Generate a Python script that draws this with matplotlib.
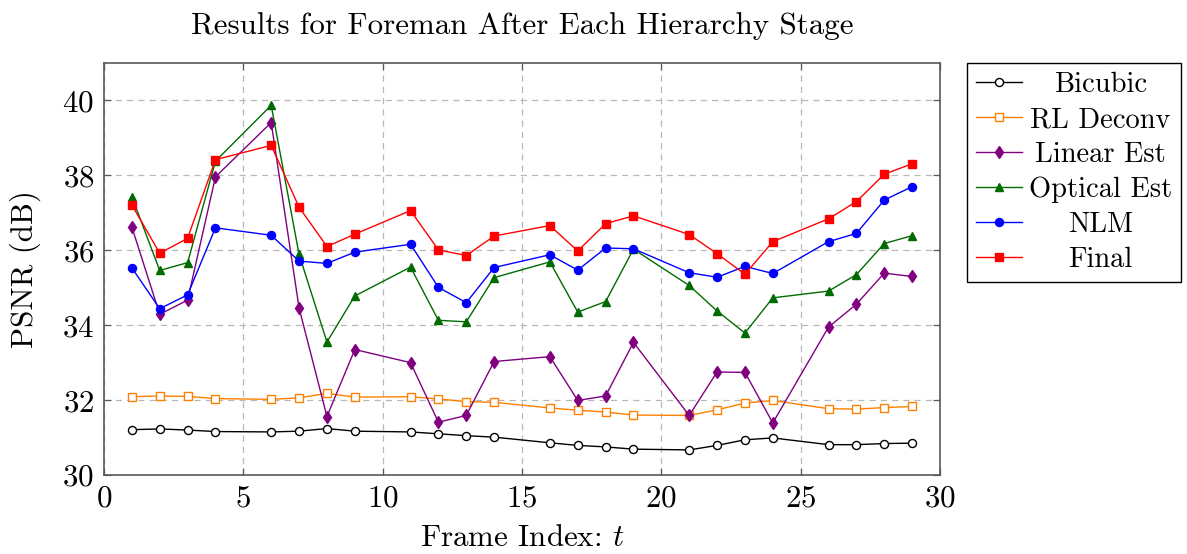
import matplotlib
matplotlib.use('Agg')
import matplotlib.pyplot as plt

plt.rcParams['font.family'] = 'serif'
plt.rcParams['font.serif'] = ['cmr10', 'DejaVu Serif']
plt.rcParams['mathtext.fontset'] = 'cm'
plt.rcParams['axes.formatter.use_mathtext'] = True

frames = [1, 2, 3, 4, 6, 7, 8, 9, 11, 12, 13, 14, 16, 17, 18, 19, 21, 22, 23, 24, 26, 27, 28, 29]

bicubic = [31.21, 31.23, 31.20, 31.16, 31.15, 31.17, 31.24, 31.17, 31.15, 31.10, 31.05, 31.01,
           30.86, 30.79, 30.75, 30.69, 30.67, 30.79, 30.94, 30.99, 30.81, 30.81, 30.84, 30.85]
rl_deconv = [32.09, 32.11, 32.10, 32.04, 32.02, 32.06, 32.18, 32.08, 32.09, 32.03, 31.96, 31.94,
             31.79, 31.73, 31.68, 31.60, 31.59, 31.74, 31.92, 31.99, 31.77, 31.76, 31.80, 31.83]
linear_est = [36.62, 34.29, 34.67, 37.96, 39.41, 34.46, 31.56, 33.35, 33.00, 31.41, 31.59, 33.03,
              33.16, 31.99, 32.11, 33.54, 31.59, 32.75, 32.74, 31.39, 33.95, 34.56, 35.39, 35.30]
optical_est = [37.43, 35.46, 35.67, 38.38, 39.87, 35.89, 33.55, 34.78, 35.55, 34.13, 34.09, 35.27,
               35.69, 34.35, 34.63, 36.03, 35.06, 34.38, 33.79, 34.73, 34.91, 35.35, 36.18, 36.39]
nlm = [35.53, 34.44, 34.81, 36.60, 36.40, 35.71, 35.65, 35.95, 36.16, 35.01, 34.60, 35.54,
       35.88, 35.47, 36.06, 36.04, 35.40, 35.28, 35.57, 35.38, 36.23, 36.45, 37.34, 37.70]
final = [37.21, 35.92, 36.32, 38.42, 38.80, 37.15, 36.10, 36.43, 37.06, 36.01, 35.86, 36.38,
         36.66, 35.98, 36.71, 36.92, 36.42, 35.91, 35.36, 36.23, 36.84, 37.30, 38.03, 38.31]

series = [
    ('Bicubic', bicubic, 'black', 'o', 'white'),
    ('RL Deconv', rl_deconv, (1.0, 0.5, 0.0), 's', 'white'),
    ('Linear Est', linear_est, (0.5, 0.0, 0.5), 'd', None),
    ('Optical Est', optical_est, (0.0, 0.42, 0.0), '^', None),
    ('NLM', nlm, 'blue', 'o', None),
    ('Final', final, 'red', 's', None),
]

FS = 22.3
LFS = 20.5

fig = plt.figure(figsize=(11.87, 5.54), dpi=100)
ax = fig.add_axes([104 / 1187, 1 - 475 / 554, (940 - 104) / 1187, (475 - 63) / 554])

for label, values, color, marker, face in series:
    ax.plot(frames, values, color=color, marker=marker, lw=1.0,
            markersize=5.8 if marker != 'd' else 6.2,
            markerfacecolor=face if face else color,
            markeredgecolor=color, markeredgewidth=1.0, label=label)

ax.set_xlim(0, 30)
ax.set_ylim(30, 41)
ax.set_xticks([0, 5, 10, 15, 20, 25, 30])
ax.set_yticks([30, 32, 34, 36, 38, 40])
ax.grid(True, color='0.72', linestyle=(0, (5, 4)), lw=0.9)
ax.set_axisbelow(True)
ax.tick_params(direction='in', top=True, right=True, length=5, width=0.9,
               color='0.35', labelsize=FS, pad=7)
for sp in ax.spines.values():
    sp.set_color('0.35')
    sp.set_linewidth(1.2)

ax.set_title('Results for Foreman After Each Hierarchy Stage', fontsize=FS, pad=21)
ax.set_xlabel('Frame Index: $t$', fontsize=FS, labelpad=8)
ax.set_ylabel('PSNR (dB)', fontsize=FS, labelpad=15)

leg = fig.legend(loc='upper left', bbox_to_anchor=(967 / 1187, 1 - 63 / 554),
                 borderaxespad=0, fontsize=LFS, fancybox=False, framealpha=1,
                 edgecolor='black', handlelength=1.6, labelspacing=0.3,
                 borderpad=0.32, handletextpad=0.25)
leg.get_frame().set_linewidth(1.0)

# center the legend labels like pgfplots does
fig.canvas.draw()
renderer = fig.canvas.get_renderer()
texts = leg.get_texts()
widths = [t.get_window_extent(renderer).width * 72 / fig.dpi for t in texts]
wmax = max(widths)
for col in leg._legend_handle_box.get_children():
    for item, w in zip(col.get_children(), widths):
        item.sep = item.sep + (wmax - w) / 2

fig.savefig('out.png', dpi=100)
